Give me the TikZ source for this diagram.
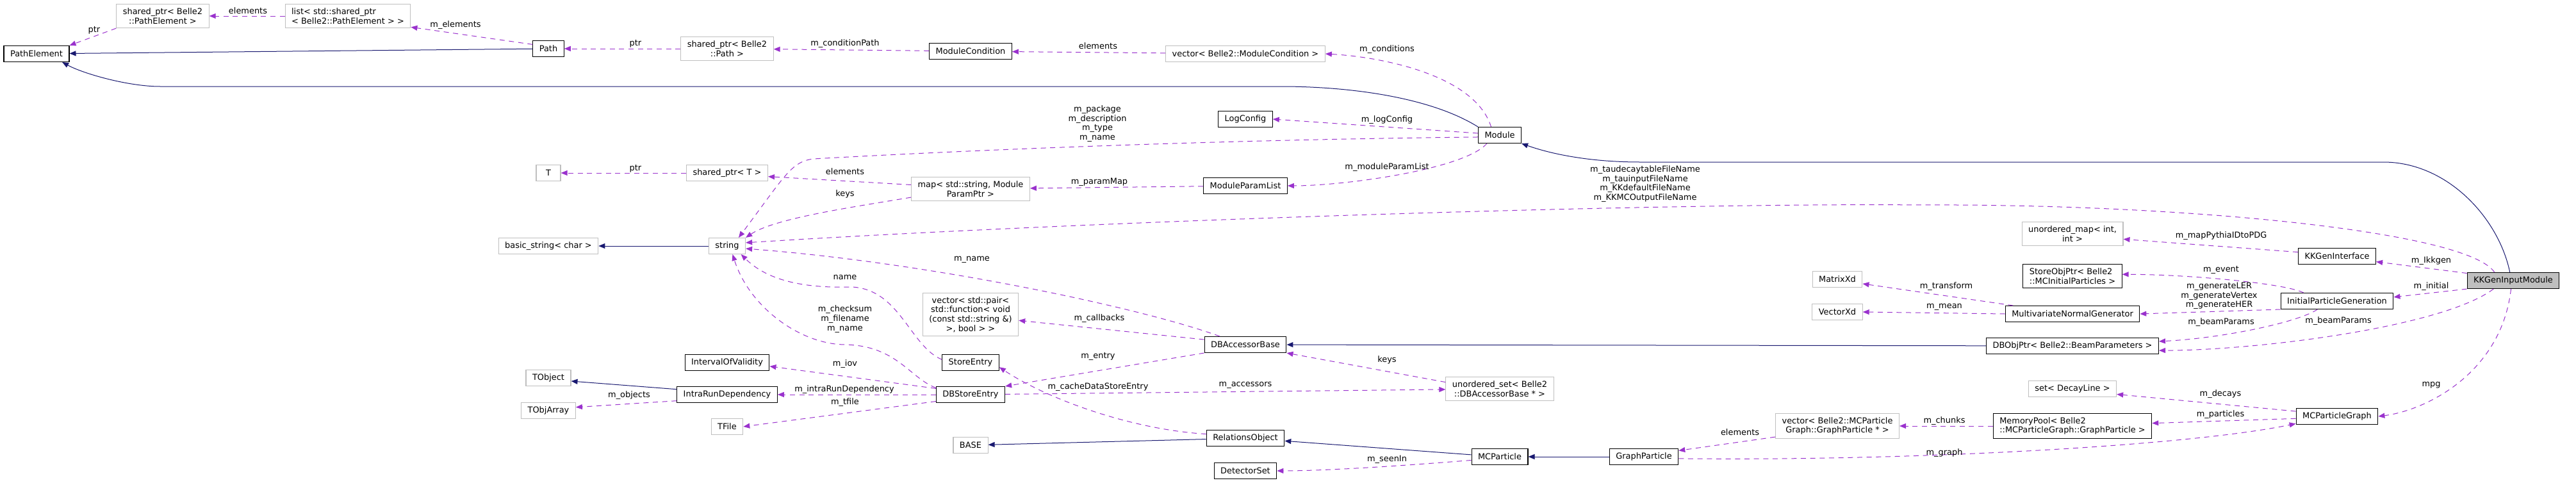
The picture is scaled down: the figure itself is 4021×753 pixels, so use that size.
\documentclass[tikz,border=0pt]{standalone}
\usepackage{fontspec}
\setmainfont{DejaVu Sans}
\usetikzlibrary{arrows.meta}
\definecolor{edgeuse}{HTML}{9A32CD}
\definecolor{edgeinh}{HTML}{191970}
\definecolor{extgrey}{HTML}{BFBFBF}
\definecolor{rootgrey}{HTML}{BFBFBF}

\begin{document}
\begin{tikzpicture}[x=0.75pt, y=-0.75pt, font=\fontsize{9.7}{11}\selectfont,
  cls/.style={draw=black, line width=0.8pt, fill=white, inner xsep=7.5pt, inner ysep=4.7pt,
    minimum height=18.75pt, minimum width=28.5pt, align=center},
  ext/.style={cls, draw=extgrey},
  root/.style={cls, fill=rootgrey},
  lbl/.style={inner sep=0pt, align=center},
  usedge/.style={-{Triangle[length=7.5pt,width=6pt]}, edgeuse, line width=0.75pt, dash pattern=on 6pt off 5pt},
  inhedge/.style={-{Triangle[length=7.5pt,width=6pt]}, edgeinh, line width=0.75pt}]
  \useasboundingbox (0,0) rectangle (4021,753);

  % classes
  \node[cls] (pe) at (57,84) {PathElement};
  \node[ext] (spPE) at (254,25) {shared\_ptr< Belle2\\::PathElement >};
  \node[ext, align=left] (lstPE) at (543,25) {list< std::shared\_ptr\\< Belle2::PathElement > >};
  \node[cls] (path) at (856,76) {Path};
  \node[ext] (spPath) at (1135,76) {shared\_ptr< Belle2\\::Path >};
  \node[cls] (modcond) at (1515,80) {ModuleCondition};
  \node[ext] (vecMC) at (1944,84) {vector< Belle2::ModuleCondition >};
  \node[cls] (module) at (2341,211) {Module};
  \node[cls] (logcfg) at (1944,186) {LogConfig};
  \node[ext] (T) at (856,270) {T};
  \node[ext] (spT) at (1135,270) {shared\_ptr< T >};
  \node[ext] (mapP) at (1515,295) {map< std::string, Module\\ParamPtr >};
  \node[cls] (mpl) at (1944,290) {ModuleParamList};
  \node[ext] (bstr) at (856,384) {basic\_string< char >};
  \node[ext] (str) at (1135,384) {string};
  \node[ext] (vecCB) at (1515,491) {vector< std::pair<\\std::function< void\\(const std::string \&)\\>, bool > >};
  \node[cls] (dbab) at (1944,538) {DBAccessorBase};
  \node[cls] (iov) at (1135,566) {IntervalOfValidity};
  \node[cls] (se) at (1515,566) {StoreEntry};
  \node[ext] (tobj) at (856,590) {TObject};
  \node[cls] (ird) at (1135,616) {IntraRunDependency};
  \node[cls] (dbse) at (1515,616) {DBStoreEntry};
  \node[ext] (toa) at (856,641) {TObjArray};
  \node[ext] (tfile) at (1135,666) {TFile};
  \node[ext] (base) at (1515,695) {BASE};
  \node[cls] (relobj) at (1944,684) {RelationsObject};
  \node[cls] (detset) at (1944,735) {DetectorSet};
  \node[ext] (useta) at (2341,607) {unordered\_set< Belle2\\::DBAccessorBase * >};
  \node[cls] (mcp) at (2341,713) {MCParticle};
  \node[cls] (gp) at (2566,713) {GraphParticle};
  \node[ext] (matx) at (2868,436) {MatrixXd};
  \node[ext] (vecx) at (2868,487) {VectorXd};
  \node[ext] (vecGP) at (2868,665) {vector< Belle2::MCParticle\\Graph::GraphParticle * >};
  \node[ext] (umap) at (3235,365) {unordered\_map< int,\\int >};
  \node[cls, align=left] (sop) at (3235,431) {StoreObjPtr< Belle2\\::MCInitialParticles >};
  \node[cls] (mng) at (3235,490) {MultivariateNormalGenerator};
  \node[cls] (dbop) at (3235,540) {DBObjPtr< Belle2::BeamParameters >};
  \node[ext] (setDL) at (3235,607) {set< DecayLine >};
  \node[cls, align=left] (mempool) at (3235,665) {MemoryPool< Belle2\\::MCParticleGraph::GraphParticle >};
  \node[cls] (kki) at (3648,400) {KKGenInterface};
  \node[cls] (ipg) at (3648,470) {InitialParticleGeneration};
  \node[cls] (mcpg) at (3648,650) {MCParticleGraph};
  \node[root] (kkgim) at (3923,438) {KKGenInputModule};

  % inheritance
  \draw[inhedge] (path) -- (pe);
  \draw[inhedge] (module.north west) .. controls (2230,150) and (2100,135) .. (2000,135) -- (250,135) .. controls (200,135) and (130,115) .. (pe.-18);
  \draw[inhedge] (str) -- (bstr);
  \draw[inhedge] (ird.174) -- (tobj.-8);
  \draw[inhedge] (relobj) -- (base);
  \draw[inhedge] (mcp.176) -- (relobj.-4);
  \draw[inhedge] (gp) -- (mcp);
  \draw[inhedge] (dbop) -- (dbab);
  \draw[inhedge] (kkgim.112) .. controls (3900,340) and (3820,253) .. (3720,253) -- (2560,253) .. controls (2480,253) and (2420,240) .. (module.south east);

  % members
  \draw[usedge] (spPE.south west) -- (pe.north east);
  \draw[usedge] (lstPE) -- (spPE);
  \draw[usedge] (path.165) -- (lstPE.-10);
  \draw[usedge] (spPath) -- (path);
  \draw[usedge] (modcond) -- (spPath);
  \draw[usedge] (vecMC) -- (modcond);
  \draw[usedge] (module.136) .. controls +(-25,-80) and +(90,5) .. (vecMC.east);
  \draw[usedge] (module.175) -- (logcfg.east);
  \draw[usedge] (module.185) .. controls (1900,218) and (1500,235) .. (1270,248) .. controls (1235,252) and (1225,275) .. (str.36);
  \draw[usedge] (module.213) .. controls +(-35,40) and +(90,0) .. (mpl.east);
  \draw[usedge] (mpl) -- (mapP);
  \draw[usedge] (mapP.176) -- (spT.-5);
  \draw[usedge] (mapP.188) .. controls (1340,322) and (1210,340) .. (str.north east);
  \draw[usedge] (spT) -- (T);
  \draw[usedge] (kkgim.156) .. controls (3850,360) and (3400,318) .. (3000,320) .. controls (2600,316) and (1700,345) .. (str.10);
  \draw[usedge] (dbab.162) .. controls (1780,480) and (1450,410) .. (str.-8);
  \draw[usedge] (se.174) .. controls (1420,540) and (1405,452) .. (1330,448) .. controls (1260,450) and (1200,440) .. (str.-31);
  \draw[usedge] (dbse.169) .. controls (1420,590) and (1400,540) .. (1320,538) .. controls (1250,538) and (1170,480) .. (str.-57);
  \draw[usedge] (dbab.173) -- (vecCB.-7);
  \draw[usedge] (dbab.south west) -- (dbse.north east);
  \draw[usedge] (dbse.170) -- (iov.-5);
  \draw[usedge] (dbse) -- (ird);
  \draw[usedge] (dbse.191) -- (tfile.east);
  \draw[usedge] (ird.187) -- (toa.7);
  \draw[usedge] (relobj.174) .. controls (1760,670) and (1630,620) .. (se.-9);
  \draw[usedge] (dbse) -- (useta);
  \draw[usedge] (useta.173) -- (dbab.south east);
  \draw[usedge] (mcp.187) .. controls +(-100,8) and +(80,0) .. (detset.east);
  \draw[usedge] (vecGP.190) -- (gp.10);
  \draw[usedge] (mempool) -- (vecGP);
  \draw[usedge] (gp.-3) .. controls (3000,720) and (3420,695) .. (mcpg.190);
  \draw[usedge] (mcpg.173) -- (setDL.-7);
  \draw[usedge] (mcpg.183) -- (mempool.2);
  \draw[usedge] (kkgim.255) .. controls (3905,580) and (3790,640) .. (mcpg.east);
  \draw[usedge] (kkgim.171) -- (kki.-8);
  \draw[usedge] (kki.174) -- (umap.-6);
  \draw[usedge] (kkgim.south west) -- (ipg.4);
  \draw[usedge] (ipg.166) .. controls +(-30,-15) and +(100,0) .. (sop.2);
  \draw[usedge] (ipg.south west) -- (mng.east);
  \draw[usedge] (ipg.203) .. controls +(-30,20) and +(100,-5) .. (dbop.3);
  \draw[usedge] (kkgim.203) .. controls +(-80,60) and +(150,0) .. (dbop.-3);
  \draw[usedge] (mng.172) -- (matx.-10);
  \draw[usedge] (mng.west) -- (vecx.east);

  % labels
  \node[lbl] (lPtrPE) at (147,47) {ptr};
  \node[lbl] (lElemPE) at (387,17) {elements};
  \node[lbl] (lElems) at (711,39) {m\_elements};
  \node[lbl] (lPtrPath) at (992,68) {ptr};
  \node[lbl] (lCondPath) at (1319,68) {m\_conditionPath};
  \node[lbl] (lElemMC) at (1714,72) {elements};
  \node[lbl] (lConds) at (2165,77) {m\_conditions};
  \node[lbl] (lLogCfg) at (2165,187) {m\_logConfig};
  \node[lbl] (lModStr) at (1713,193) {m\_package\\m\_description\\m\_type\\m\_name};
  \node[lbl] (lModPL) at (2165,261) {m\_moduleParamList};
  \node[lbl] (lParMap) at (1716,284) {m\_paramMap};
  \node[lbl] (lElemT) at (1319,268) {elements};
  \node[lbl] (lKeysMap) at (1319,303) {keys};
  \node[lbl] (lPtrT) at (992,263) {ptr};
  \node[lbl] (lKKStr) at (2568,287) {m\_taudecaytableFileName\\m\_tauinputFileName\\m\_KKdefaultFileName\\m\_KKMCOutputFileName};
  \node[lbl] (lDbabName) at (1517,405) {m\_name};
  \node[lbl] (lSeName) at (1319,433) {name};
  \node[lbl] (lDbseStr) at (1319,498) {m\_checksum\\m\_filename\\m\_name};
  \node[lbl] (lCallbacks) at (1716,497) {m\_callbacks};
  \node[lbl] (lEntry) at (1714,556) {m\_entry};
  \node[lbl] (lIov) at (1319,568) {m\_iov};
  \node[lbl] (lIrd) at (1318,608) {m\_intraRunDependency};
  \node[lbl] (lCache) at (1714,604) {m\_cacheDataStoreEntry};
  \node[lbl] (lAccess) at (1944,601) {m\_accessors};
  \node[lbl] (lTfile) at (1319,628) {m\_tfile};
  \node[lbl] (lObjects) at (982,617) {m\_objects};
  \node[lbl] (lKeysSet) at (2165,562) {keys};
  \node[lbl] (lSeenIn) at (2165,717) {m\_seenIn};
  \node[lbl] (lElemGP) at (2716,675) {elements};
  \node[lbl] (lChunks) at (3035,657) {m\_chunks};
  \node[lbl] (lGraph) at (3035,707) {m\_graph};
  \node[lbl] (lTransform) at (3038,447) {m\_transform};
  \node[lbl] (lMean) at (3035,479) {m\_mean};
  \node[lbl] (lMapPy) at (3467,368) {m\_mapPythiaIDtoPDG};
  \node[lbl] (lIkkgen) at (3795,407) {m\_Ikkgen};
  \node[lbl] (lEvent) at (3467,421) {m\_event};
  \node[lbl] (lInitial) at (3795,447) {m\_initial};
  \node[lbl] (lGenerate) at (3464,462) {m\_generateLER\\m\_generateVertex\\m\_generateHER};
  \node[lbl] (lBeamIpg) at (3467,503) {m\_beamParams};
  \node[lbl] (lBeamKK) at (3650,501) {m\_beamParams};
  \node[lbl] (lDecays) at (3466,615) {m\_decays};
  \node[lbl] (lParticles) at (3466,647) {m\_particles};
  \node[lbl] (lMpg) at (3795,601) {mpg};
\end{tikzpicture}
\end{document}
